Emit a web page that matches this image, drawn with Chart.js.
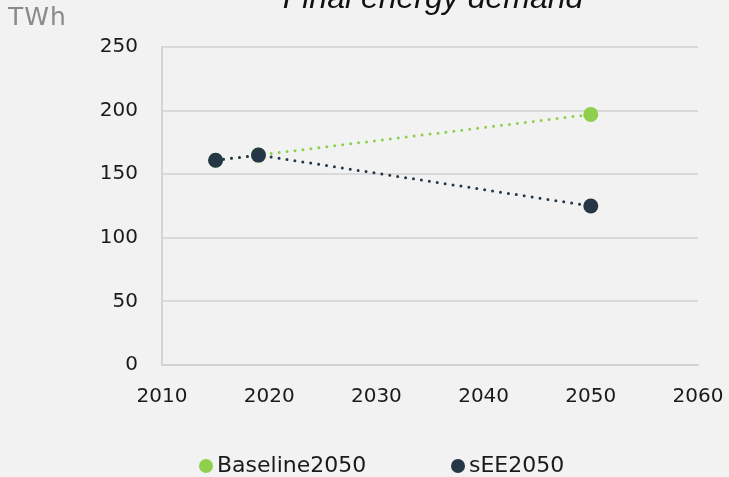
<!DOCTYPE html>
<html>
<head>
<meta charset="utf-8">
<script src="https://cdn.jsdelivr.net/npm/chart.js@4.4.1/dist/chart.umd.min.js"></script>
<style>
  html, body { margin: 0; padding: 0; background: #f2f2f2; }
  #wrap { position: relative; width: 729px; height: 477px; overflow: hidden; }
  #title { position: absolute; left: 0; width: 866px; top: -18px; text-align: center;
    font-family: "Liberation Sans", Arial, sans-serif; font-style: italic; font-size: 32px;
    line-height: 30px; color: #111; }
  #unit { position: absolute; left: 8px; top: 2px; font-family: "DejaVu Sans", sans-serif;
    font-size: 25px; letter-spacing: 1px; color: #8a8a8a; }
  #legend { position: absolute; top: 451px; left: 0; width: 729px; height: 28px;
    font-family: "DejaVu Sans", sans-serif; font-size: 22px; color: #1a1a1a; }
  #legend span { position: absolute; top: 0; line-height: 28px; white-space: nowrap; }
  #legend i { display: inline-block; width: 14px; height: 14px; border-radius: 50%;
    margin-right: 4px; vertical-align: -1px; }
</style>
</head>
<body>
<div id="wrap">
  <canvas id="energyChart" width="729" height="477"></canvas>
  <div id="title">Final energy demand</div>
  <div id="unit">TWh</div>
  <div id="legend"></div>
</div>
<script>
// ========== data ==========
const years = [2015, 2019, 2050];
const baseline2050 = [161, 165, 197];
const sEE2050 = [161, 165, 125];
const yTicks = [0, 50, 100, 150, 200, 250];
const xTicks = [2010, 2020, 2030, 2040, 2050, 2060];

const font = 'DejaVu Sans';

function toPoints(vals) {
  return years.map((y, i) => ({ x: y, y: vals[i] }));
}

const ctx = document.getElementById('energyChart').getContext('2d');
const chart = new Chart(ctx, {
  type: 'line',
  data: {
    datasets: [{
      label: 'Baseline2050',
      data: toPoints(baseline2050),
      order: 2,
      borderColor: '#8ed04d',
      backgroundColor: '#8ed04d',
      borderWidth: 3,
      borderDash: [0, 8],
      borderCapStyle: 'round',
      pointRadius: 7.5,
      pointHoverRadius: 7.5,
      pointBorderWidth: 0
    }, {
      label: 'sEE2050',
      data: toPoints(sEE2050),
      order: 1,
      borderColor: '#253746',
      backgroundColor: '#253746',
      borderWidth: 3,
      borderDash: [0, 8],
      borderCapStyle: 'round',
      pointRadius: 7.5,
      pointHoverRadius: 7.5,
      pointBorderWidth: 0
    }]
  },
  options: {
    responsive: false,
    animation: false,
    layout: { padding: { left: 0, right: 31, top: 47, bottom: 57 } },
    plugins: {
      legend: { display: false },
      tooltip: { enabled: false }
    },
    scales: {
      x: {
        type: 'linear',
        min: 2010,
        max: 2060,
        afterBuildTicks: axis => { axis.ticks = xTicks.map(v => ({ value: v })); },
        afterFit: axis => {
          axis.height = 55;
          axis.paddingLeft = 0;
          axis.paddingRight = 0;
        },
        ticks: {
          color: '#1a1a1a',
          padding: 20,
          maxRotation: 0,
          font: { family: font, size: 20 },
          callback: v => String(v)
        },
        grid: { display: false, drawTicks: false },
        border: { display: true, color: '#d4d4d4', width: 2 }
      },
      y: {
        min: 0,
        max: 250,
        afterBuildTicks: axis => { axis.ticks = yTicks.map(v => ({ value: v })); },
        afterFit: axis => {
          axis.width = 162;
          axis.paddingTop = 0;
          axis.paddingBottom = 0;
        },
        ticks: {
          color: '#1a1a1a',
          padding: 24,
          font: { family: font, size: 20 }
        },
        grid: { color: '#d9d9d9', lineWidth: 2, drawTicks: false },
        border: { display: true, color: '#d4d4d4', width: 2 }
      }
    }
  }
});

// ========== legend (html) ==========
const legendPos = [199, 451];
const legend = document.getElementById('legend');
chart.data.datasets.forEach((ds, i) => {
  const item = document.createElement('span');
  item.style.left = legendPos[i] + 'px';
  item.innerHTML = '<i style="background:' + ds.backgroundColor + '"></i>' + ds.label;
  legend.appendChild(item);
});
</script>
</body>
</html>
